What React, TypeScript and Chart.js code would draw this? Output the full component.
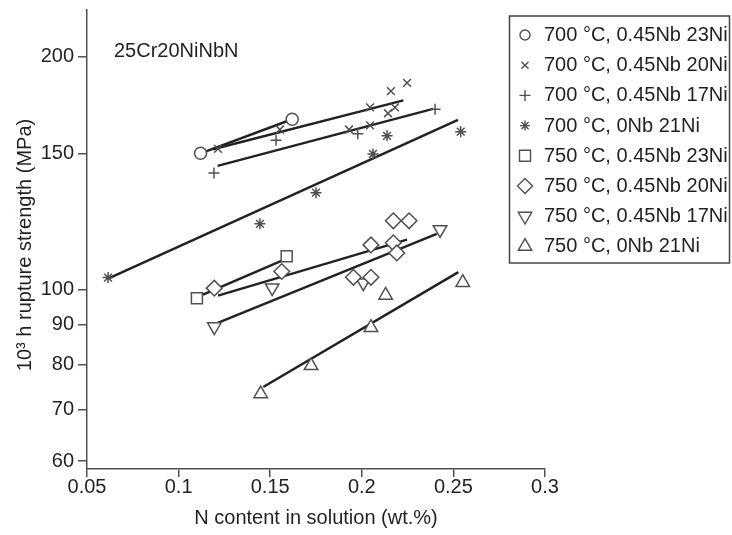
import React, { useEffect, useRef } from 'react';
import { Chart, registerables } from 'chart.js';

Chart.register(...registerables);

// ---------- data ----------
const xTicks = [0.05, 0.1, 0.15, 0.2, 0.25, 0.3];
const xTickLabels = ['0.05', '0.1', '0.15', '0.2', '0.25', '0.3'];
const yTicks = [60, 70, 80, 90, 100, 150, 200];
const yTickLabels = ['60', '70', '80', '90', '100', '150', '200'];

const seriesLabels = [
  '700 °C, 0.45Nb 23Ni',
  '700 °C, 0.45Nb 20Ni',
  '700 °C, 0.45Nb 17Ni',
  '700 °C, 0Nb 21Ni',
  '750 °C, 0.45Nb 23Ni',
  '750 °C, 0.45Nb 20Ni',
  '750 °C, 0.45Nb 17Ni',
  '750 °C, 0Nb 21Ni',
];

// measured points
const c700Nb23X = [0.112, 0.162];
const c700Nb23Y = [150, 166];
const c700Nb20X = [0.1215, 0.1553, 0.193, 0.2045, 0.2045, 0.2143, 0.2181, 0.2159, 0.2247];
const c700Nb20Y = [152, 161, 161, 163, 172, 169, 172, 180.5, 185];
const c700Nb17X = [0.1193, 0.1532, 0.1978, 0.24];
const c700Nb17Y = [141.5, 156, 159, 171];
const c700Nb0X = [0.0615, 0.1444, 0.175, 0.2061, 0.2138, 0.254];
const c700Nb0Y = [103.6, 121.6, 133.4, 149.7, 158, 160];
const c750Nb23X = [0.11, 0.159];
const c750Nb23Y = [97.4, 110.4];
const c750Nb20X = [0.1195, 0.1563, 0.1954, 0.205, 0.205, 0.2172, 0.2191, 0.2172, 0.2258];
const c750Nb20Y = [100.4, 105.5, 103.7, 103.7, 114.2, 114.9, 111.5, 122.7, 122.7];
const c750Nb17X = [0.1195, 0.1511, 0.2008, 0.2427];
const c750Nb17Y = [89.5, 100.5, 102.0, 119.5];
const c750Nb0X = [0.1448, 0.1723, 0.205, 0.213, 0.2551];
const c750Nb0Y = [73.3, 79.7, 89.3, 98.3, 102.1];

// fitted trend lines (start, end)
const fit700Nb23X = [0.112, 0.162];
const fit700Nb23Y = [150, 166];
const fit700Nb20X = [0.1188, 0.2227];
const fit700Nb20Y = [151.8, 175.6];
const fit700Nb17X = [0.1213, 0.2389];
const fit700Nb17Y = [144.5, 171.2];
const fit700Nb0X = [0.0615, 0.2525];
const fit700Nb0Y = [103.3, 165.7];
const fit750Nb23X = [0.1133, 0.1564];
const fit750Nb23Y = [98.5, 109.0];
const fit750Nb20X = [0.1215, 0.2247];
const fit750Nb20Y = [98.2, 116.0];
const fit750Nb17X = [0.1207, 0.2409];
const fit750Nb17Y = [90.4, 118.0];
const fit750Nb0X = [0.1462, 0.2527];
const fit750Nb0Y = [74.8, 105.3];

const pointsX = [c700Nb23X, c700Nb20X, c700Nb17X, c700Nb0X, c750Nb23X, c750Nb20X, c750Nb17X, c750Nb0X];
const pointsY = [c700Nb23Y, c700Nb20Y, c700Nb17Y, c700Nb0Y, c750Nb23Y, c750Nb20Y, c750Nb17Y, c750Nb0Y];
const fitsX = [fit700Nb23X, fit700Nb20X, fit700Nb17X, fit700Nb0X, fit750Nb23X, fit750Nb20X, fit750Nb17X, fit750Nb0X];
const fitsY = [fit700Nb23Y, fit700Nb20Y, fit700Nb17Y, fit700Nb0Y, fit750Nb23Y, fit750Nb20Y, fit750Nb17Y, fit750Nb0Y];

const annotationText = '25Cr20NiNbN';
const xTitle = 'N content in solution (wt.%)';
const yTitle = '10³ h rupture strength (MPa)';

// ---------- styles ----------
const FONT = '"Liberation Sans", Arial, Helvetica, sans-serif';
const TEXT = '#231f20';
const AXIS = '#505050';
const MARK = '#505050';
const LINE = '#222222';

type MStyle = { style: string; rot: number; r: number; lr: number };
const markerStyles: MStyle[] = [
  { style: 'circle', rot: 0, r: 6, lr: 5 },
  { style: 'crossRot', rot: 0, r: 5.5, lr: 5 },
  { style: 'cross', rot: 0, r: 5.5, lr: 5.5 },
  { style: 'star', rot: 0, r: 5.5, lr: 5 },
  { style: 'rect', rot: 0, r: 7.8, lr: 7.8 },
  { style: 'rectRot', rot: 0, r: 7.8, lr: 7.5 },
  { style: 'triangle', rot: 180, r: 7.8, lr: 7.8 },
  { style: 'triangle', rot: 0, r: 7.8, lr: 7.8 },
];

function drawMarker(ctx: CanvasRenderingContext2D, m: MStyle, r: number, x: number, y: number) {
  let rad = (m.rot * Math.PI) / 180;
  ctx.beginPath();
  let fill = true;
  switch (m.style) {
    case 'circle':
      ctx.arc(x, y, r, 0, Math.PI * 2);
      ctx.closePath();
      break;
    case 'triangle': {
      const T = (2 * Math.PI) / 3;
      ctx.moveTo(x + Math.sin(rad) * r, y - Math.cos(rad) * r);
      rad += T;
      ctx.lineTo(x + Math.sin(rad) * r, y - Math.cos(rad) * r);
      rad += T;
      ctx.lineTo(x + Math.sin(rad) * r, y - Math.cos(rad) * r);
      ctx.closePath();
      break;
    }
    case 'rect': {
      const s = Math.SQRT1_2 * r;
      ctx.rect(x - s, y - s, 2 * s, 2 * s);
      break;
    }
    case 'rectRot':
      ctx.moveTo(x - r, y);
      ctx.lineTo(x, y - r);
      ctx.lineTo(x + r, y);
      ctx.lineTo(x, y + r);
      ctx.closePath();
      break;
    case 'cross':
      fill = false;
      ctx.moveTo(x, y - r);
      ctx.lineTo(x, y + r);
      ctx.moveTo(x - r, y);
      ctx.lineTo(x + r, y);
      break;
    case 'crossRot': {
      fill = false;
      const d = r * Math.SQRT1_2;
      ctx.moveTo(x - d, y - d);
      ctx.lineTo(x + d, y + d);
      ctx.moveTo(x + d, y - d);
      ctx.lineTo(x - d, y + d);
      break;
    }
    case 'star': {
      fill = false;
      const d = r * Math.SQRT1_2;
      ctx.moveTo(x, y - r);
      ctx.lineTo(x, y + r);
      ctx.moveTo(x - r, y);
      ctx.lineTo(x + r, y);
      ctx.moveTo(x - d, y - d);
      ctx.lineTo(x + d, y + d);
      ctx.moveTo(x + d, y - d);
      ctx.lineTo(x - d, y + d);
      break;
    }
  }
  if (fill) ctx.fill();
  ctx.stroke();
}

const overlayPlugin = {
  id: 'overlay',
  afterDraw(chart: any) {
    const ctx: CanvasRenderingContext2D = chart.ctx;
    const area = chart.chartArea;
    ctx.save();
    ctx.fillStyle = TEXT;
    ctx.font = `20px ${FONT}`;
    ctx.textAlign = 'left';
    ctx.textBaseline = 'alphabetic';
    ctx.fillText(annotationText, 114, 57);

    ctx.textAlign = 'center';
    ctx.fillText(xTitle, (area.left + area.right) / 2, 524);

    ctx.save();
    ctx.translate(25, 245);
    ctx.rotate(-Math.PI / 2);
    ctx.textBaseline = 'middle';
    ctx.fillText(yTitle, 0, 0);
    ctx.restore();

    // legend box
    ctx.strokeStyle = '#444';
    ctx.lineWidth = 1.5;
    ctx.strokeRect(509.5, 16, 220, 247);

    for (let i = 0; i < seriesLabels.length; i++) {
      const y = 35 + i * 30.2;
      ctx.fillStyle = '#fff';
      ctx.strokeStyle = MARK;
      ctx.lineWidth = 1.4;
      drawMarker(ctx, markerStyles[i], markerStyles[i].lr, 525, y);
      ctx.fillStyle = TEXT;
      ctx.textAlign = 'left';
      ctx.textBaseline = 'alphabetic';
      ctx.fillText(seriesLabels[i], 544, y + 6);
    }
    ctx.restore();
  },
};

export default function App() {
  const ref = useRef<HTMLCanvasElement | null>(null);

  useEffect(() => {
    if (!ref.current) return;
    const datasets: any[] = [];
    for (let i = 0; i < seriesLabels.length; i++) {
      const m = markerStyles[i];
      datasets.push({
        label: seriesLabels[i],
        data: pointsX[i].map((x, j) => ({ x, y: pointsY[i][j] })),
        showLine: false,
        pointStyle: m.style,
        pointRotation: m.rot,
        pointRadius: m.r,
        pointHoverRadius: m.r,
        pointBorderColor: MARK,
        pointBackgroundColor: '#fff',
        pointBorderWidth: 1.5,
        order: 0,
      });
      datasets.push({
        label: seriesLabels[i] + ' fit',
        data: fitsX[i].map((x, j) => ({ x, y: fitsY[i][j] })),
        showLine: true,
        pointRadius: 0,
        pointHoverRadius: 0,
        borderColor: LINE,
        borderWidth: 2.5,
        fill: false,
        tension: 0,
        order: 1,
      });
    }

    const chart = new Chart(ref.current, {
      type: 'scatter',
      data: { datasets },
      options: {
        animation: false,
        responsive: true,
        maintainAspectRatio: false,
        devicePixelRatio: 1,
        layout: { padding: { left: 0, right: 187, top: 8, bottom: 0 } },
        plugins: {
          legend: { display: false },
          tooltip: { enabled: false },
          title: { display: false },
        },
        events: [],
        scales: {
          x: {
            type: 'linear',
            position: 'bottom',
            min: 0.05,
            max: 0.3,
            afterBuildTicks: (s: any) => {
              s.ticks = xTicks.map((v) => ({ value: v }));
            },
            afterFit: (s: any) => {
              s.height = 66;
              s.paddingLeft = 0;
              s.paddingRight = 0;
            },
            ticks: {
              autoSkip: false,
              maxRotation: 0,
              padding: -2,
              color: TEXT,
              font: { family: FONT, size: 20 },
              callback: (v: any, i: number) => xTickLabels[i],
            },
            grid: {
              display: true,
              drawOnChartArea: false,
              drawTicks: true,
              tickLength: 8,
              color: AXIS,
              lineWidth: 1.5,
            },
            border: { display: true, color: AXIS, width: 1.5 },
          },
          y: {
            type: 'logarithmic',
            position: 'left',
            min: 58.6,
            max: 230.3,
            afterBuildTicks: (s: any) => {
              s.ticks = yTicks.map((v) => ({ value: v }));
            },
            afterFit: (s: any) => {
              s.width = 87;
              s.paddingTop = 0;
              s.paddingBottom = 0;
            },
            ticks: {
              autoSkip: false,
              padding: 4,
              color: TEXT,
              font: { family: FONT, size: 20 },
              callback: (v: any, i: number) => yTickLabels[i],
            },
            grid: {
              display: true,
              drawOnChartArea: false,
              drawTicks: true,
              tickLength: 9,
              color: AXIS,
              lineWidth: 1.5,
            },
            border: { display: true, color: AXIS, width: 1.5 },
          },
        },
      } as any,
      plugins: [overlayPlugin],
    });
    return () => chart.destroy();
  }, []);

  return (
    <div style={{ position: 'absolute', left: 0, top: 0, width: 732, height: 535, background: '#fff' }}>
      <canvas ref={ref} />
    </div>
  );
}
